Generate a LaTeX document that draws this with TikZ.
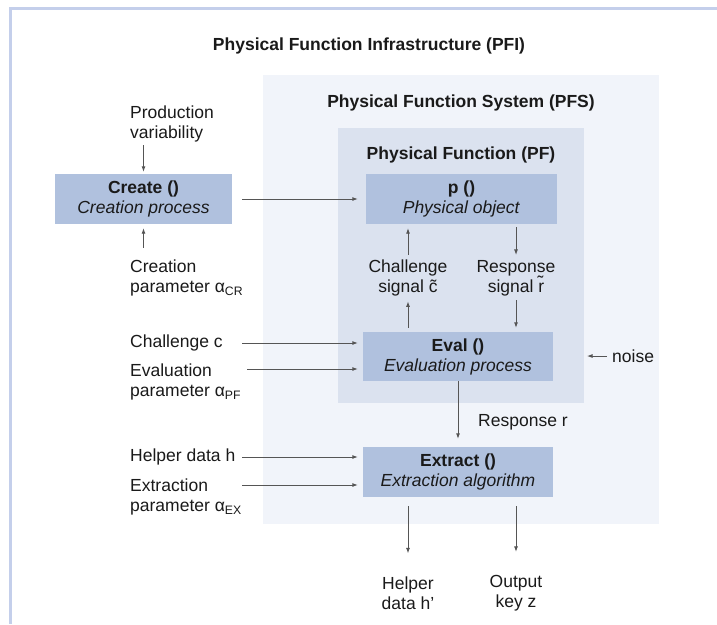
\documentclass[tikz,border=0pt]{standalone}
\usepackage{fontspec}
\setmainfont{Liberation Sans}
\usetikzlibrary{arrows.meta}
\definecolor{frameblue}{HTML}{C4CFEB}
\definecolor{pfsfill}{HTML}{F1F4FA}
\definecolor{pffill}{HTML}{DBE2EF}
\definecolor{boxfill}{HTML}{B0C1DE}
\definecolor{linegray}{HTML}{555555}
\definecolor{txt}{HTML}{1A1A1A}
\begin{document}
\begin{tikzpicture}[x=1pt,y=-1pt,
  every node/.style={font=\fontsize{17.5}{20}\selectfont, text=txt, inner sep=0pt},
  procbox/.style={fill=boxfill, minimum height=50pt, align=center},
  lbl/.style={align=left, anchor=west},
  clbl/.style={align=center},
  ttl/.style={font=\fontsize{17.5}{20}\selectfont\bfseries},
  arr/.style={draw=linegray, line width=0.9pt, -{Latex[length=5.5pt,width=4pt]}},
]
\useasboundingbox (0,0) rectangle (717,624);
\fill[white] (0,0) rectangle (717,624);
\draw[frameblue, line width=3pt] (10,624) -- (10,8) -- (717,8);

% containers
\fill[pfsfill] (263,75) rectangle (659,524);
\fill[pffill] (338,128) rectangle (584,403);
\coordinate (pfright) at (584,356);

% titles
\node[ttl] (tpfi) at (369,46) {Physical Function Infrastructure (PFI)};
\node[ttl] (tpfs) at (461,103) {Physical Function System (PFS)};
\node[ttl] (tpf) at (461,155) {Physical Function (PF)};

% process boxes
\node[procbox, minimum width=177pt] (create) at (143.5,199) {\textbf{Create ()}\\\textit{Creation process}};
\node[procbox, minimum width=191pt] (p) at (461.5,199) {\textbf{p ()}\\\textit{Physical object}};
\node[procbox, minimum width=190pt, minimum height=49pt] (eval) at (458,356.5) {\textbf{Eval ()}\\\textit{Evaluation process}};
\node[procbox, minimum width=190pt] (extract) at (458,472) {\textbf{Extract ()}\\\textit{Extraction algorithm}};

% labels
\node[lbl] (prod) at (130,124) {Production\\variability};
\node[lbl] (cparam) at (130,278) {Creation\\parameter α\textsubscript{CR}};
\node[clbl] (chal) at (408,278) {Challenge\\signal c̃};
\node[clbl] (resp) at (516,278) {Response\\signal r̃};
\node[lbl] (chc) at (130,343) {Challenge c};
\node[lbl] (evparam) at (130,382) {Evaluation\\parameter α\textsubscript{PF}};
\node[lbl] (helper) at (130,457) {Helper data h};
\node[lbl] (exparam) at (130,497) {Extraction\\parameter α\textsubscript{EX}};
\node[lbl] (respr) at (478,422) {Response r};
\node[lbl] (noise) at (612,356) {noise};
\node[clbl] (hout) at (408,593) {Helper\\data h’};
\node[clbl] (zout) at (516,593) {Output\\key z};

% arrow start coordinates
\coordinate (chin) at (242,343);
\coordinate (evin) at (247,369);
\coordinate (hin) at (242,457);
\coordinate (exin) at (242,485);

% connectors
\draw[arr, shorten <=3pt, shorten >=2pt] (prod.south -| create.north) -- (create.north);
\draw[arr, shorten <=12pt, shorten >=4pt] (cparam.north -| create.south) -- (create.south);
\draw[arr, shorten <=10pt, shorten >=8pt] (create.east) -- (p.west);
\draw[arr, shorten <=5pt, shorten >=4pt] (chal.north) -- (chal.north |- p.south);
\draw[arr, shorten <=4pt, shorten >=5pt] (eval.north -| chal) -- (chal.south);
\draw[arr, shorten <=3pt, shorten >=5pt] (p.south -| resp) -- (resp.north);
\draw[arr, shorten <=4pt, shorten >=4pt] (resp.south) -- (resp.south |- eval.north);
\draw[arr, shorten >=5pt] (chin) -- (chin -| eval.west);
\draw[arr, shorten >=5pt] (evin) -- (evin -| eval.west);
\draw[arr, shorten >=5pt] (hin) -- (hin -| extract.west);
\draw[arr, shorten >=5pt] (exin) -- (exin -| extract.west);
\draw[arr, shorten <=5pt, shorten >=3pt] (noise.west) -- (pfright);
\draw[arr, shorten >=8pt] (eval.south) -- (extract.north);
\draw[arr, shorten <=9pt, shorten >=23pt] (extract.south -| hout) -- (hout.north);
\draw[arr, shorten <=9pt, shorten >=23pt] (extract.south -| zout) -- (zout.north);
\end{tikzpicture}
\end{document}
